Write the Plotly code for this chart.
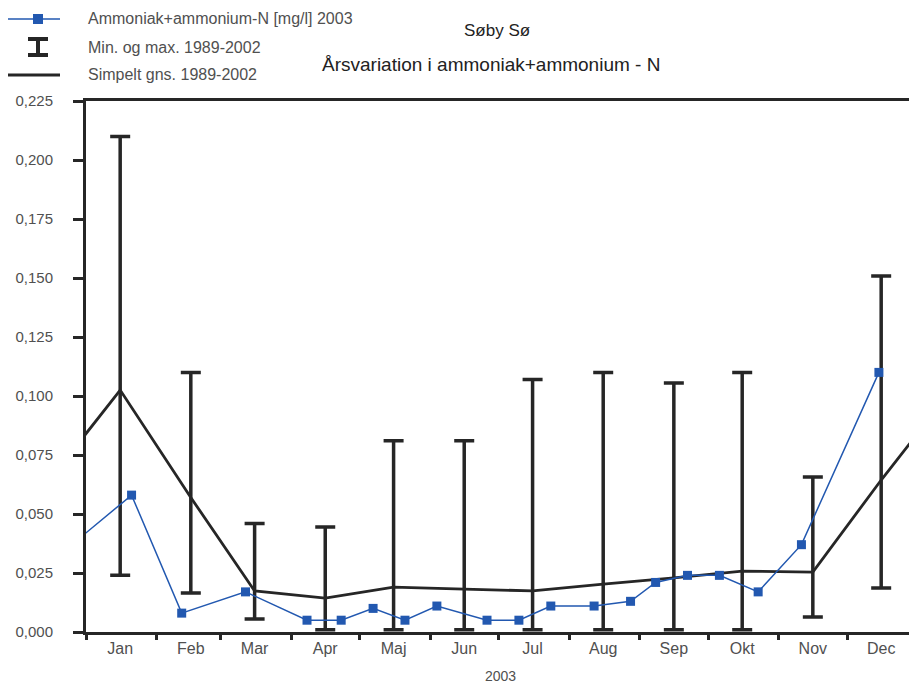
import plotly.graph_objects as go

# --- data -------------------------------------------------------------
month_labels = ["Jan", "Feb", "Mar", "Apr", "Maj", "Jun",
                "Jul", "Aug", "Sep", "Okt", "Nov", "Dec"]
month_mid = ["2003-%02d-16" % m for m in range(1, 13)]
month_start = ["2003-%02d-01" % m for m in range(1, 13)]

# Simple mean 1989-2002 per month
mean_1989_2002 = [0.1025, 0.057, 0.0174, 0.0144, 0.019, 0.0182,
                  0.0174, 0.0203, 0.0229, 0.0258, 0.0254, 0.0644]
# Min and max 1989-2002 per month
min_1989_2002 = [0.024, 0.0165, 0.0055, 0.001, 0.001, 0.001,
                 0.001, 0.001, 0.001, 0.001, 0.0064, 0.0186]
max_1989_2002 = [0.210, 0.110, 0.046, 0.0445, 0.081, 0.081,
                 0.107, 0.110, 0.1055, 0.110, 0.0657, 0.1508]

# Measurements 2003 (the first is the last sample of December 2002)
sample_dates = ["2002-12-17", "2003-01-21", "2003-02-12", "2003-03-12",
                "2003-04-08", "2003-04-23", "2003-05-07", "2003-05-21",
                "2003-06-04", "2003-06-26", "2003-07-10", "2003-07-24",
                "2003-08-12", "2003-08-28", "2003-09-08", "2003-09-22",
                "2003-10-06", "2003-10-23", "2003-11-11", "2003-12-15"]
nh4_2003 = [0.030, 0.058, 0.008, 0.017, 0.005, 0.005, 0.010, 0.005,
            0.011, 0.005, 0.005, 0.011, 0.011, 0.013, 0.021, 0.024,
            0.024, 0.017, 0.037, 0.110]

y_ticks = [0.0, 0.025, 0.05, 0.075, 0.1, 0.125, 0.15, 0.175, 0.2, 0.225]

# --- layout constants ---------------------------------------------------
W, H = 909, 683
ML, MT, MB, MR = 86, 101, 51, 0
PW, PH = W - ML - MR, H - MT - MB
INK = "#262626"
TXT = "#505050"
BLUE = "#2258b0"
FONT = "Liberation Sans, Arial, sans-serif"


def px(x):
    return (x - ML) / PW


def py(y):
    return (H - MB - y) / PH


# the mean curve wraps around the year (previous Dec / next Jan)
mean_x = ["2002-12-16"] + month_mid + ["2004-01-16"]
mean_y = [mean_1989_2002[-1]] + mean_1989_2002 + [mean_1989_2002[0]]

fig = go.Figure()

fig.add_trace(go.Scatter(
    x=month_mid, y=mean_1989_2002, mode="markers",
    marker=dict(size=1, opacity=0),
    error_y=dict(type="data", symmetric=False,
                 array=[mx - m for mx, m in zip(max_1989_2002, mean_1989_2002)],
                 arrayminus=[m - mn for m, mn in zip(mean_1989_2002, min_1989_2002)],
                 color=INK, thickness=3.5, width=10),
    showlegend=False, hoverinfo="skip", cliponaxis=False,
))

fig.add_trace(go.Scatter(
    x=mean_x, y=mean_y, mode="lines",
    line=dict(color=INK, width=2.8),
    showlegend=False,
))

fig.add_trace(go.Scatter(
    x=sample_dates, y=nh4_2003, mode="lines+markers",
    line=dict(color=BLUE, width=1.5),
    marker=dict(symbol="square", size=9, color=BLUE),
    showlegend=False,
))

# --- hand-drawn legend --------------------------------------------------
shapes = []
annotations = []
lx0, lx1, lxc = 8, 60, 38
rows = [19, 47, 75]
legend_text = ["Ammoniak+ammonium-N [mg/l] 2003",
               "Min. og max. 1989-2002",
               "Simpelt gns. 1989-2002"]

shapes.append(dict(type="line", xref="paper", yref="paper",
                   x0=px(lx0), x1=px(lx1), y0=py(rows[0]), y1=py(rows[0]),
                   line=dict(color=BLUE, width=1.5)))
shapes.append(dict(type="rect", xref="paper", yref="paper",
                   x0=px(lxc - 5), x1=px(lxc + 5), y0=py(rows[0] - 5), y1=py(rows[0] + 5),
                   line=dict(width=0), fillcolor=BLUE))
shapes.append(dict(type="line", xref="paper", yref="paper",
                   x0=px(lxc), x1=px(lxc), y0=py(rows[1] - 8), y1=py(rows[1] + 8),
                   line=dict(color=INK, width=4)))
for dy in (-8, 8):
    shapes.append(dict(type="line", xref="paper", yref="paper",
                       x0=px(lxc - 10), x1=px(lxc + 10),
                       y0=py(rows[1] + dy), y1=py(rows[1] + dy),
                       line=dict(color=INK, width=4)))
shapes.append(dict(type="line", xref="paper", yref="paper",
                   x0=px(lx0), x1=px(lx1), y0=py(rows[2]), y1=py(rows[2]),
                   line=dict(color=INK, width=3)))

for r, t in zip(rows, legend_text):
    annotations.append(dict(text=t, xref="paper", yref="paper",
                            x=px(86), y=py(r), xanchor="left", yanchor="middle",
                            showarrow=False, font=dict(size=16, color=TXT, family=FONT)))

annotations.append(dict(text="Søby Sø", xref="paper", yref="paper",
                        x=px(497), y=py(31), xanchor="center", yanchor="middle",
                        showarrow=False, font=dict(size=17, color="#222", family=FONT)))
annotations.append(dict(text="Årsvariation i ammoniak+ammonium - N", xref="paper", yref="paper",
                        x=px(491), y=py(65), xanchor="center", yanchor="middle",
                        showarrow=False, font=dict(size=19, color="#222", family=FONT)))
annotations.append(dict(text="2003", xref="paper", yref="paper",
                        x=px(500), y=py(676), xanchor="center", yanchor="middle",
                        showarrow=False, font=dict(size=14, color=TXT, family=FONT)))

fig.update_layout(
    width=W, height=H,
    margin=dict(l=ML, r=MR, t=MT, b=MB),
    paper_bgcolor="white", plot_bgcolor="white",
    separators=",.",
    font=dict(family=FONT, color=TXT),
    shapes=shapes, annotations=annotations,
    showlegend=False,
)

fig.update_xaxes(
    type="date",
    range=["2003-01-01", "2003-12-28 05:00"],
    tickvals=month_mid, ticktext=month_labels,
    ticks="", tickfont=dict(size=16, color=TXT),
    showgrid=False, zeroline=False,
    showline=True, linecolor=INK, linewidth=3, mirror=True,
    minor=dict(tickvals=month_start, ticks="outside", ticklen=5,
               tickwidth=2.5, tickcolor=INK, showgrid=False),
)

fig.update_yaxes(
    range=[0, 0.225],
    tickvals=y_ticks, tickformat=".3f",
    ticks="outside", ticklen=10, tickwidth=3, tickcolor=INK,
    tickfont=dict(size=15, color=TXT),
    ticklabelstandoff=17,
    showgrid=False, zeroline=False,
    showline=True, linecolor=INK, linewidth=3,
)

fig.write_html("out.html")
